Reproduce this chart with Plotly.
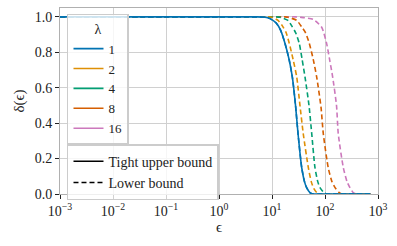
import plotly.graph_objects as go

# Epsilon sample points and delta(epsilon) values
lam_labels = ["1", "2", "4", "8", "16"]
colors = ["#0173b2", "#de8f05", "#029e73", "#d55e00", "#cc78bc"]

eps_upper_1 = [0.001, 1.0, 5.0, 7.4, 9.2, 12.0, 14.5, 17.6, 21.0, 24.2, 27.8, 31.0, 36.3, 41.0, 45.0, 52.0, 59.0, 100.0, 720.0]
dlt_upper_1 = [1.0, 1.0, 1.0, 0.998, 0.99, 0.965, 0.925, 0.85, 0.76, 0.66, 0.50, 0.34, 0.15, 0.07, 0.036, 0.008, 0.0, 0.0, 0.0]

eps_lower_2 = [0.001, 1.0, 8.0, 10.0, 13.0, 16.0, 18.5, 21.2, 25.0, 29.3, 33.7, 38.9, 48.4, 55.0, 61.7, 70.0, 79.0, 200.0, 720.0]
dlt_lower_2 = [1.0, 1.0, 1.0, 0.998, 0.98, 0.945, 0.91, 0.85, 0.76, 0.66, 0.50, 0.34, 0.15, 0.07, 0.03, 0.008, 0.0, 0.0, 0.0]

eps_lower_4 = [0.001, 1.0, 12.0, 14.1, 20.0, 24.0, 28.0, 32.7, 37.0, 42.0, 49.9, 56.2, 64.6, 73.0, 80.5, 95.0, 110.0, 300.0, 720.0]
dlt_lower_4 = [1.0, 1.0, 1.0, 0.998, 0.98, 0.945, 0.91, 0.85, 0.76, 0.66, 0.50, 0.34, 0.15, 0.07, 0.036, 0.008, 0.0, 0.0, 0.0]

eps_lower_8 = [0.001, 1.0, 18.0, 20.0, 29.2, 36.0, 43.0, 50.6, 60.0, 69.7, 84.1, 92.9, 114.8, 135.0, 154.9, 185.0, 209.0, 400.0, 720.0]
dlt_lower_8 = [1.0, 1.0, 1.0, 0.998, 0.98, 0.945, 0.91, 0.85, 0.76, 0.66, 0.49, 0.34, 0.15, 0.07, 0.036, 0.008, 0.0, 0.0, 0.0]

eps_lower_16 = [0.001, 1.0, 28.0, 33.9, 60.3, 87.1, 107.2, 122.0, 139.6, 164.8, 178.0, 221.3, 260.0, 295.1, 340.0, 384.6, 720.0]
dlt_lower_16 = [1.0, 1.0, 1.0, 0.998, 0.985, 0.94, 0.85, 0.76, 0.66, 0.50, 0.34, 0.15, 0.07, 0.036, 0.008, 0.0, 0.0]

lower_eps = [eps_upper_1, eps_lower_2, eps_lower_4, eps_lower_8, eps_lower_16]
lower_dlt = [dlt_upper_1, dlt_lower_2, dlt_lower_4, dlt_lower_8, dlt_lower_16]

x_tickvals = [0.001, 0.01, 0.1, 1, 10, 100, 1000]
x_ticktext = ["10<sup>−3</sup>", "10<sup>−2</sup>", "10<sup>−1</sup>", "10<sup>0</sup>",
              "10<sup>1</sup>", "10<sup>2</sup>", "10<sup>3</sup>"]
y_tickvals = [0.0, 0.2, 0.4, 0.6, 0.8, 1.0]
y_ticktext = ["0.0", "0.2", "0.4", "0.6", "0.8", "1.0"]

FONT = "Liberation Serif"

fig = go.Figure()

for i in range(len(lam_labels) - 1, -1, -1):
    fig.add_trace(go.Scatter(
        x=lower_eps[i], y=lower_dlt[i], mode="lines",
        line=dict(color=colors[i], width=1.6, dash="5px,3px", shape="spline", smoothing=0.6),
        showlegend=False, hoverinfo="skip"))

fig.add_trace(go.Scatter(
    x=eps_upper_1, y=dlt_upper_1, mode="lines",
    line=dict(color=colors[0], width=1.6, shape="spline", smoothing=0.6),
    showlegend=False, hoverinfo="skip"))

for i, lab in enumerate(lam_labels):
    fig.add_trace(go.Scatter(
        x=[None], y=[None], mode="lines", name=lab,
        line=dict(color=colors[i], width=1.6), legend="legend"))

fig.add_trace(go.Scatter(x=[None], y=[None], mode="lines", name="Tight upper bound",
                         line=dict(color="black", width=1.6), legend="legend2"))
fig.add_trace(go.Scatter(x=[None], y=[None], mode="lines", name="Lower bound",
                         line=dict(color="black", width=1.6, dash="5px,3px"), legend="legend2"))

fig.update_layout(
    width=397, height=246,
    margin=dict(l=60, r=19, t=8, b=52),
    paper_bgcolor="white", plot_bgcolor="white",
    font=dict(family=FONT, size=14, color="#222222"),
    xaxis=dict(type="log", range=[-3, 3], tickvals=x_tickvals, ticktext=x_ticktext,
               automargin=False,
               showgrid=True, gridcolor="#d0d0d0", gridwidth=1,
               showline=True, linecolor="#b0b0b0", linewidth=1, mirror=True,
               ticks="outside", ticklen=4, tickcolor="#222222",
               zeroline=False, tickfont=dict(size=14),
               title=dict(text="ϵ", standoff=0, font=dict(size=15))),
    yaxis=dict(range=[0, 1.05], tickvals=y_tickvals, ticktext=y_ticktext,
               automargin=False,
               showgrid=True, gridcolor="#d0d0d0", gridwidth=1,
               showline=True, linecolor="#b0b0b0", linewidth=1, mirror=True,
               ticks="outside", ticklen=4, tickcolor="#222222",
               zeroline=False, tickfont=dict(size=14),
               title=dict(text="δ(ϵ)", standoff=6, font=dict(size=15))),
    legend=dict(x=0.022, y=0.968, xanchor="left", yanchor="top",
                title=dict(text="λ", side="top center", font=dict(size=14)),
                bgcolor="rgba(255,255,255,0.8)", bordercolor="#cccccc", borderwidth=1.5,
                font=dict(size=13), itemwidth=30, tracegroupgap=0),
    legend2=dict(x=0.022, y=0.268, xanchor="left", yanchor="top",
                 bgcolor="rgba(255,255,255,0.8)", bordercolor="#cccccc", borderwidth=1.5,
                 font=dict(size=14), itemwidth=30),
)

fig.write_html("out.html", config={"displayModeBar": False},
               post_script="document.body.style.margin='0';document.body.style.overflow='hidden';")
